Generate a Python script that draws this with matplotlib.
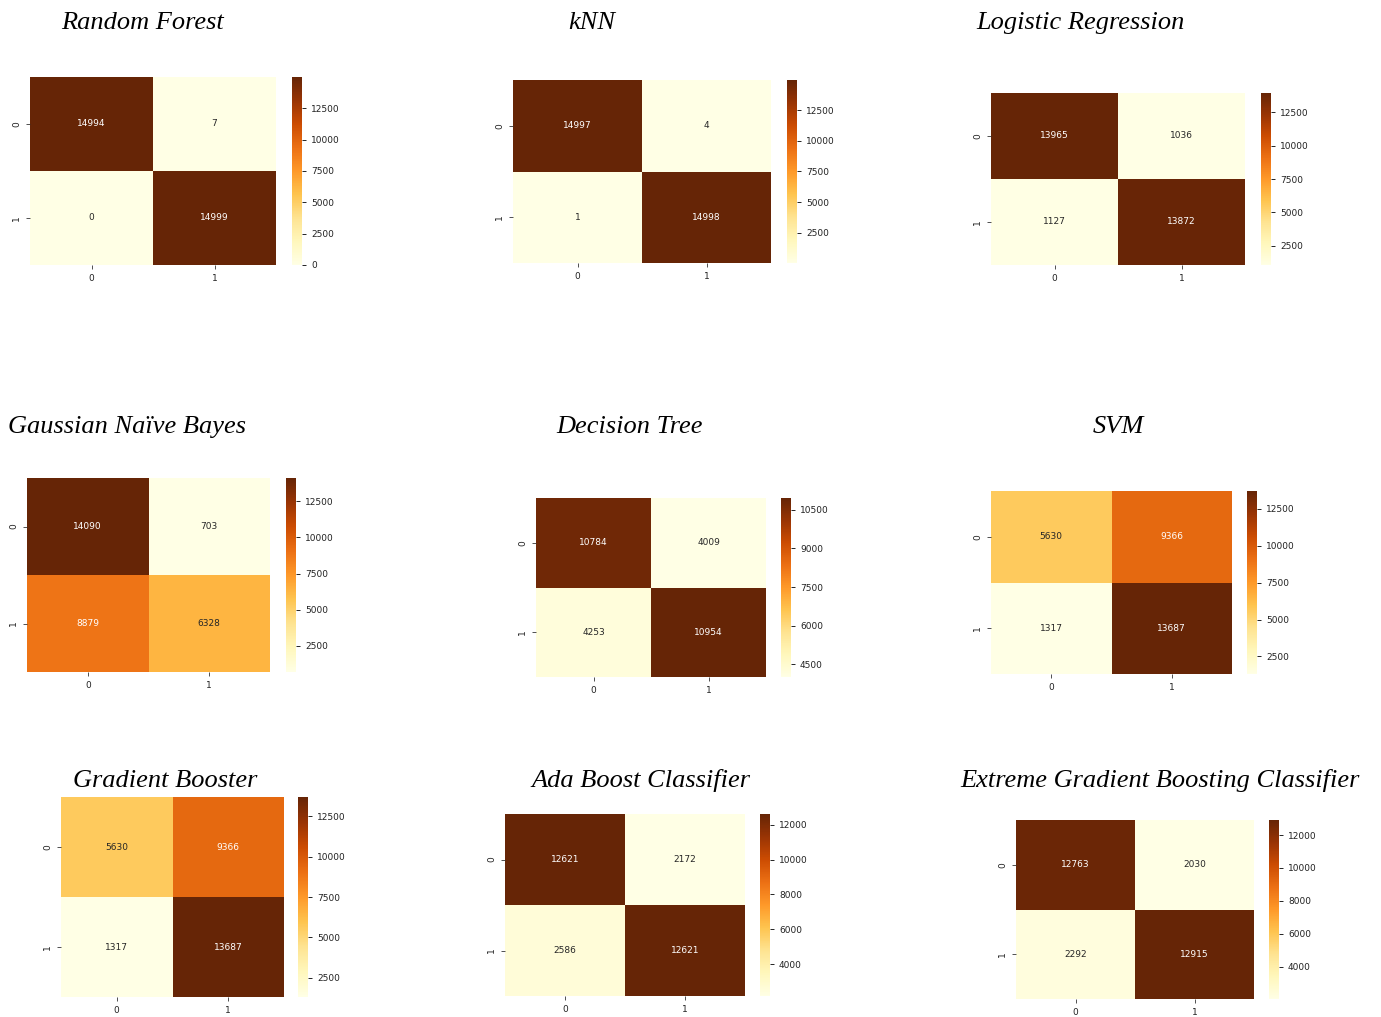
import numpy as np
import matplotlib.pyplot as plt
import seaborn as sns

W, H = 1381, 1017

titles = ["Random Forest", "kNN", "Logistic Regression",
          "Gaussian Naïve Bayes", "Decision Tree", "SVM",
          "Gradient Booster", "Ada Boost Classifier",
          "Extreme Gradient Boosting Classifier"]

rf = [[14994, 7], [0, 14999]]
knn = [[14997, 4], [1, 14998]]
logreg = [[13965, 1036], [1127, 13872]]
gnb = [[14090, 703], [8879, 6328]]
dtree = [[10784, 4009], [4253, 10954]]
svm = [[5630, 9366], [1317, 13687]]
gboost = [[5630, 9366], [1317, 13687]]
ada = [[12621, 2172], [2586, 12621]]
xgb = [[12763, 2030], [2292, 12915]]
matrices = [rf, knn, logreg, gnb, dtree, svm, gboost, ada, xgb]

# colour bar ticks shown in each panel
cbar_ticks = [
    [0, 2500, 5000, 7500, 10000, 12500],
    [2500, 5000, 7500, 10000, 12500],
    [2500, 5000, 7500, 10000, 12500],
    [2500, 5000, 7500, 10000, 12500],
    [4500, 6000, 7500, 9000, 10500],
    [2500, 5000, 7500, 10000, 12500],
    [2500, 5000, 7500, 10000, 12500],
    [4000, 6000, 8000, 10000, 12000],
    [4000, 6000, 8000, 10000, 12000],
]

# pixel boxes: heatmap (left, top, right, bottom), colorbar left, title centre (x, y)
layout = [
    ((30, 77, 276, 265), 292, (143, 23)),
    ((513, 80, 771, 263), 787, (592, 23)),
    ((991, 93, 1245, 265), 1261, (1080, 23)),
    ((27, 478, 270, 672), 286, (127, 427)),
    ((536, 498, 766, 677), 781, (630, 427)),
    ((991, 491, 1232, 674), 1247, (1118, 427)),
    ((61, 797, 284, 997), 298, (165, 781)),
    ((505, 814, 745, 996), 760, (641, 781)),
    ((1016, 820, 1254, 999), 1269, (1160, 781)),
]


def rect(l, t, r, b):
    return [l / W, 1 - b / H, (r - l) / W, (b - t) / H]


fig = plt.figure(figsize=(W / 100, H / 100), dpi=100)

for name, cm, ticks, (box, cbl, (tx, ty)) in zip(titles, matrices, cbar_ticks, layout):
    l, t, r, b = box
    ax = fig.add_axes(rect(l, t, r, b))
    cax = fig.add_axes(rect(cbl, t, cbl + 10, b))
    sns.heatmap(np.array(cm), annot=True, fmt="d", cmap="YlOrBr", ax=ax,
                cbar_ax=cax, annot_kws={"fontsize": 6.5},
                cbar_kws={"ticks": ticks})
    ax.tick_params(labelsize=6.5, length=3, width=0.6, color="#333333",
                   labelcolor="#222222")
    ax.set_yticklabels(ax.get_yticklabels(), rotation=90, va="center")
    cax.tick_params(labelsize=6.5, length=3, width=0.6, labelcolor="#222222")
    fig.text(tx / W, 1 - ty / H, name, ha="center", va="center",
             fontsize=19, fontstyle="italic", family="Liberation Serif")

fig.savefig("out.png", dpi=100)
